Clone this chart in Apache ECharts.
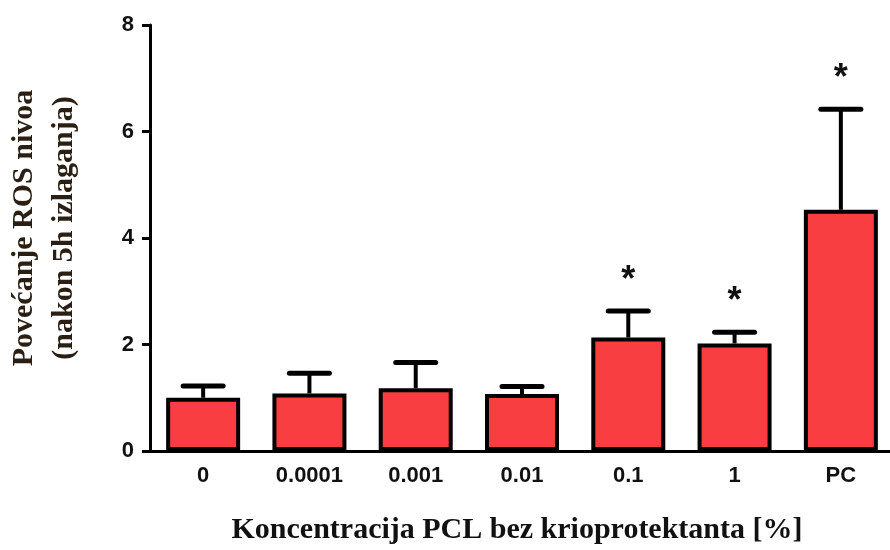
<!DOCTYPE html>
<html>
<head>
<meta charset="utf-8">
<script src="https://cdn.jsdelivr.net/npm/echarts@6/dist/echarts.min.js"></script>
<style>html,body{margin:0;padding:0;background:#fff}#c{width:890px;height:550px}</style>
</head>
<body>
<div id="c"></div>
<script>
var categories = ['0', '0.0001', '0.001', '0.01', '0.1', '1', 'PC'];
var means = [1.0, 1.08, 1.18, 1.07, 2.13, 2.02, 4.53];
var errors = [0.22, 0.38, 0.48, 0.14, 0.50, 0.21, 1.89];
var stars = ['', '', '', '', '*', '*', '*'];
var yTicks = [0, 2, 4, 6, 8];

var chart = echarts.init(document.getElementById('c'));
var errData = categories.map(function (c, i) { return [i, means[i], errors[i], stars[i]]; });

chart.setOption({
  animation: false,
  backgroundColor: '#ffffff',
  grid: { left: 150, top: 25, right: -4, bottom: 99, containLabel: false, outerBoundsMode: 'none' },
  xAxis: {
    type: 'category',
    data: categories,
    name: 'Koncentracija PCL bez krioprotektanta [%]',
    nameLocation: 'middle',
    nameGap: 64,
    nameTextStyle: { fontFamily: 'Liberation Serif', fontWeight: 'bold', fontSize: 30, color: '#111', padding: [0, 10, 0, 0] },
    axisLine: { lineStyle: { color: '#000', width: 3 } },
    axisTick: { alignWithLabel: true, length: 10, lineStyle: { color: '#000', width: 3 } },
    axisLabel: { margin: 14, fontFamily: 'Liberation Sans', fontWeight: 'bold', fontSize: 22, color: '#111' },
    splitLine: { show: false }
  },
  yAxis: {
    type: 'value',
    min: yTicks[0],
    max: yTicks[yTicks.length - 1],
    interval: 2,
    name: 'Povećanje ROS nivoa\n(nakon 5h izlaganja)',
    nameLocation: 'middle',
    nameRotate: 90,
    nameGap: 66,
    nameTextStyle: { fontFamily: 'Liberation Serif', fontWeight: 'bold', fontSize: 30, lineHeight: 40, color: '#2a1f12', padding: [0, 0, 0, 20] },
    axisLine: { show: true, lineStyle: { color: '#000', width: 3 } },
    axisTick: { show: true, length: 8, lineStyle: { color: '#000', width: 3 } },
    axisLabel: { margin: 16, fontFamily: 'Liberation Sans', fontWeight: 'bold', fontSize: 22, color: '#111' },
    splitLine: { show: false }
  },
  series: [
    {
      type: 'bar',
      data: means,
      barWidth: 74,
      itemStyle: { color: '#f83e40', borderColor: '#000', borderWidth: 4 },
      z: 2
    },
    {
      type: 'custom',
      data: errData,
      z: 3,
      renderItem: function (params, api) {
        var i = api.value(0);
        var m = api.value(1);
        var e = api.value(2);
        var s = errData[params.dataIndex][3];
        var base = api.coord([i, m]);
        var top = api.coord([i, m + e]);
        var half = 20;
        var children = [
          { type: 'line', shape: { x1: base[0], y1: base[1], x2: top[0], y2: top[1] }, style: { stroke: '#000', lineWidth: 4 } },
          { type: 'line', shape: { x1: top[0] - half, y1: top[1], x2: top[0] + half, y2: top[1] }, style: { stroke: '#000', lineWidth: 5, lineCap: 'round' } }
        ];
        if (s) {
          children.push({ type: 'text', x: top[0], y: top[1] - 30, style: { text: s, fontFamily: 'Liberation Sans', fontWeight: 'bold', fontSize: 36, fill: '#111', align: 'center', verticalAlign: 'middle' } });
        }
        return { type: 'group', children: children };
      }
    }
  ]
});
</script>
</body>
</html>
